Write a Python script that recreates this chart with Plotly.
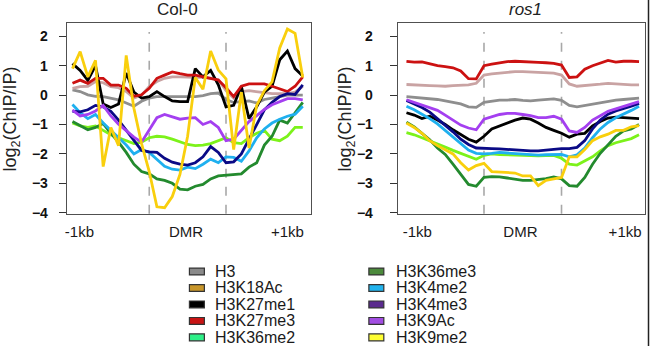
import plotly.graph_objects as go

# ---------------- data ----------------
bins = list(range(31))            # 10 bins upstream, 10 bins DMR, 10 bins downstream
dmr_bounds = [10, 20]

marks = ["H3", "H3K18Ac", "H3K27me1", "H3K27me3", "H3K36me2",
         "H3K36me3", "H3K4me2", "H3K4me3", "H3K9Ac", "H3K9me2"]

# line colours used in the panels
line_colors = ["#8e8e8e", "#c9a3a3", "#000000", "#cc1111", "#7cf21a",
               "#238a2e", "#1fb0ef", "#0a0a86", "#a43ff0", "#f9cf0d"]
# swatch colours printed in the legend
legend_colors = ["#8a8a8a", "#c8962a", "#000000", "#c81414", "#2ef088",
                 "#4c8a3c", "#22b4ee", "#5a2a8e", "#a24ee2", "#ffff33"]

col0 = {
    "H3": [0.18, 0.12, 0.01, -0.04, -0.05, -0.1, -0.16, -0.27, -0.38, -0.21, -0.1,
           -0.05, -0.05, -0.05, -0.06, -0.06, -0.05, -0.02, 0.05, 0.07, -0.15,
           -0.25, -0.22, -0.2, -0.27, -0.15, -0.1, -0.05, 0.0, 0.0, 0.0],
    "H3K18Ac": [0.23, 0.29, 0.3, 0.46, 0.42, 0.29, 0.25, 0.12, -0.1, 0.0, 0.29,
                0.46, 0.57, 0.62, 0.62, 0.6, 0.6, 0.6, 0.58, 0.52, 0.15,
                -0.1, 0.12, 0.15, 0.12, 0.08, 0.05, 0.05, 0.05, 0.1, 0.3],
    "H3K27me1": [1.07, 0.84, 0.5, 1.0, -0.3, -0.42, -0.3, 0.75, 0.1, -0.1, -0.05,
                 0.12, -0.05, -0.2, -0.22, -0.22, 0.9, 0.62, 0.84, 0.35, -0.4,
                 -0.35, 0.3, -0.8, -0.4, 0.1, 0.3, 1.2, 1.5, 0.9, 0.65],
    "H3K27me3": [0.4, 0.51, 0.4, 0.57, 0.57, 0.34, 0.34, 0.23, -0.04, 0.01, 0.23,
                 0.57, 0.68, 0.79, 0.73, 0.68, 0.68, 0.62, 0.57, 0.51, 0.25,
                 -0.05, 0.3, 0.38, 0.38, 0.38, 0.3, 0.2, 0.12, 0.3, 0.62],
    "H3K36me2": [-0.95, -1.05, -1.1, -1.05, -1.2, -1.35, -1.45, -1.55, -1.65, -1.6, -1.45,
                 -1.4, -1.42, -1.5, -1.6, -1.68, -1.72, -1.7, -1.65, -1.55, -1.45,
                 -1.62, -1.65, -1.45, -1.3, -1.2, -1.5, -1.55, -1.4, -1.1, -1.1],
    "H3K36me3": [-0.9, -1.05, -1.18, -1.1, -0.97, -1.3, -1.6, -1.95, -2.35, -2.6, -2.68,
                 -2.85, -2.9, -3.0, -3.2, -3.22, -3.1, -3.04, -2.85, -2.75, -2.72,
                 -2.7, -2.68, -2.45, -2.3, -1.7, -1.4, -0.85, -0.95, -0.6, -0.25],
    "H3K4me2": [-0.32, -0.6, -0.8, -0.66, -0.95, -1.2, -1.45, -1.7, -2.0, -1.85, -1.95,
                -2.2, -2.42, -2.52, -2.55, -2.45, -2.5, -2.35, -2.18, -2.3, -2.1,
                -2.12, -2.25, -1.9, -1.45, -1.15, -0.95, -0.82, -0.72, -0.65, -0.38],
    "H3K4me3": [-0.55, -0.57, -0.5, -0.35, -0.4, -0.55, -0.85, -1.2, -1.55, -1.88, -1.93,
                -1.95, -2.15, -2.28, -2.35, -2.38, -2.3, -2.1, -1.75, -1.95, -2.3,
                -2.27, -2.0, -1.5, -1.0, -0.5, -0.25, -0.05, 0.05, 0.02, 0.35],
    "H3K9Ac": [-0.51, -0.71, -0.66, -0.54, -0.35, -0.71, -0.99, -1.21, -1.43, -1.6, -1.2,
               -0.77, -0.66, -0.75, -0.82, -0.78, -0.77, -1.0, -0.9, -1.1, -1.55,
               -1.5, -1.2, -0.9, -0.7, -0.49, -0.33, -0.22, -0.12, -0.12, -0.16],
    "H3K9me2": [0.9, 1.48, 0.62, 1.18, -2.43, -1.1, -1.72, 1.35, -0.45, -1.65, -2.6,
                -3.8, -3.83, -3.45, -2.7, -1.4, 0.6, 0.2, 1.5, 0.85, 0.55,
                -1.85, 0.1, -1.8, -0.35, 0.15, 0.45, 1.6, 2.25, 2.1, 0.6],
}

ros1 = {
    "H3": [-0.05, -0.07, -0.1, -0.12, -0.15, -0.2, -0.25, -0.3, -0.4, -0.42, -0.25,
           -0.2, -0.17, -0.17, -0.15, -0.18, -0.2, -0.17, -0.15, -0.13, -0.18,
           -0.35, -0.4, -0.35, -0.3, -0.25, -0.2, -0.17, -0.15, -0.13, -0.1],
    "H3K18Ac": [0.36, 0.34, 0.33, 0.32, 0.31, 0.3, 0.32, 0.33, 0.35, 0.4, 0.68,
                0.72, 0.75, 0.78, 0.8, 0.8, 0.79, 0.78, 0.77, 0.75, 0.68,
                0.38, 0.3, 0.32, 0.33, 0.37, 0.4, 0.38, 0.36, 0.35, 0.35],
    "H3K27me1": [-0.6, -0.68, -0.8, -0.72, -0.85, -1.0, -1.18, -1.35, -1.5, -1.6, -1.4,
                 -1.15, -1.05, -0.95, -0.85, -0.78, -0.82, -0.95, -1.1, -1.2, -1.3,
                 -1.43, -1.33, -1.3, -1.05, -0.9, -0.78, -0.75, -0.77, -0.78, -0.8],
    "H3K27me3": [1.15, 1.12, 1.13, 1.06, 1.0, 0.97, 0.93, 0.82, 0.56, 0.55, 1.0,
                 1.05, 1.1, 1.14, 1.15, 1.13, 1.12, 1.11, 1.1, 1.08, 1.02,
                 0.6, 0.62, 0.88, 1.0, 1.08, 1.18, 1.12, 1.15, 1.15, 1.14],
    "H3K36me2": [-1.28, -1.35, -1.45, -1.55, -1.65, -1.77, -1.88, -1.98, -2.1, -2.18, -2.05,
                 -2.0, -2.02, -2.03, -2.05, -2.06, -2.07, -2.07, -2.06, -2.05, -2.15,
                 -2.35, -2.38, -2.25, -2.1, -1.9, -1.72, -1.62, -1.55, -1.48, -1.35],
    "H3K36me3": [-0.92, -1.08, -1.3, -1.52, -1.8, -2.02, -2.35, -2.7, -3.04, -3.1, -2.8,
                 -2.77, -2.78, -2.82, -2.86, -2.9, -2.9, -2.88, -2.84, -2.78, -2.85,
                 -3.08, -3.1, -2.8, -2.35, -1.98, -1.68, -1.4, -1.22, -1.15, -1.0],
    "H3K4me2": [-0.38, -0.5, -0.65, -0.8, -0.98, -1.2, -1.42, -1.65, -1.87, -1.98, -2.0,
                -1.98, -1.95, -1.97, -1.99, -2.02, -2.04, -2.04, -2.03, -2.02, -2.02,
                -2.1, -2.03, -1.8, -1.45, -1.15, -0.93, -0.77, -0.65, -0.52, -0.38],
    "H3K4me3": [-0.18, -0.3, -0.42, -0.58, -0.8, -1.02, -1.25, -1.5, -1.68, -1.8, -1.82,
                -1.82, -1.83, -1.85, -1.87, -1.88, -1.9, -1.9, -1.87, -1.84, -1.82,
                -1.82, -1.78, -1.55, -1.15, -0.85, -0.65, -0.54, -0.47, -0.38, -0.28],
    "H3K9Ac": [-0.16, -0.25, -0.35, -0.42, -0.52, -0.68, -0.85, -1.02, -1.12, -1.18, -0.82,
               -0.75, -0.66, -0.62, -0.62, -0.66, -0.7, -0.77, -0.77, -0.72, -0.82,
               -1.22, -1.27, -1.1, -0.85, -0.7, -0.55, -0.47, -0.38, -0.3, -0.22],
    "H3K9me2": [-0.95, -1.1, -1.3, -1.55, -1.72, -1.85, -2.0, -2.3, -2.55, -2.4, -2.32,
                -2.6, -2.62, -2.63, -2.65, -2.75, -2.75, -3.08, -2.9, -2.85, -2.8,
                -2.1, -2.1, -1.85, -1.55, -1.42, -1.33, -1.2, -1.2, -1.08, -1.04],
}

panel_titles = ["Col-0", "<i>ros1</i>"]
y_ticks = [-4, -3, -2, -1, 0, 1, 2]
x_ticktext = ["-1kb", "DMR", "+1kb"]

# ---------------- figure ----------------
W, H = 650, 353
FONT = "Liberation Sans, Arial, Helvetica, sans-serif"


def px(x):
    return x / W


def py(y):
    return 1 - y / H


fig = go.Figure()
for k, name in enumerate(marks):
    fig.add_trace(go.Scatter(x=bins, y=col0[name], mode="lines", name=name,
                             line=dict(color=line_colors[k], width=2.8),
                             xaxis="x", yaxis="y", showlegend=False))
    fig.add_trace(go.Scatter(x=bins, y=ros1[name], mode="lines", name=name,
                             line=dict(color=line_colors[k], width=2.8),
                             xaxis="x2", yaxis="y2", showlegend=False))

axis_common = dict(showline=True, mirror=True, linecolor="#505050", linewidth=1.2,
                   showgrid=False, zeroline=False)

xcommon = dict(axis_common, tickmode="array", ticktext=x_ticktext, ticks="",
               tickfont=dict(family=FONT, size=15, color="#1a1a1a"),
               ticklabelstandoff=4)
ycommon = dict(axis_common, tickmode="array", tickvals=y_ticks, ticks="outside",
               ticklen=7, tickcolor="#333", tickwidth=1.2,
               range=[-4.033, 2.467],
               tickfont=dict(family=FONT, size=14, color="#111", weight="bold"))

fig.update_layout(
    width=W, height=H, margin=dict(l=0, r=0, t=0, b=0),
    paper_bgcolor="white", plot_bgcolor="white",
    xaxis=dict(xcommon, domain=[px(65), px(310)], range=[-0.74, 31.08],
               tickvals=[0.9, 14.8, 28.0], anchor="y"),
    yaxis=dict(ycommon, domain=[py(218), py(23)], anchor="x",
               ticklabelstandoff=8),
    xaxis2=dict(xcommon, domain=[px(397), px(645)], range=[-1.12, 30.77],
                tickvals=[1.4, 14.7, 28.2], anchor="y2"),
    yaxis2=dict(ycommon, domain=[py(218), py(23)], anchor="x2",
                ticklabelstandoff=14),
    showlegend=False,
)

shapes = []
for xr, yr in (("x", "y"), ("x2", "y2")):
    for b in dmr_bounds:
        shapes.append(dict(type="line", xref=xr, yref=yr + " domain", x0=b, x1=b,
                           y0=0, y1=0.95, line=dict(color="#a8a8a8", width=1.6, dash="dash"),
                           layer="below"))

annotations = []
# panel titles
for t, cx in zip(panel_titles, [176, 525]):
    annotations.append(dict(text=t, x=px(cx), y=py(10), xref="paper", yref="paper",
                            showarrow=False, xanchor="center", yanchor="middle",
                            font=dict(family=FONT, size=17, color="#222")))
# y axis titles
for cx in [10, 346]:
    annotations.append(dict(text="log<sub>2</sub>(ChIP/IP)", x=px(cx), y=py(121),
                            xref="paper", yref="paper", showarrow=False, textangle=-90,
                            xanchor="center", yanchor="middle",
                            font=dict(family=FONT, size=18, color="#222")))

# legend (two columns of boxed swatches)
row_y0, row_dy = 277, 16.8
cols = [(188, 203, 212), (368, 383, 393)]
for k, name in enumerate(marks):
    c = k // 5
    r = k % 5
    yc = row_y0 + r * row_dy
    x0, x1, xt = cols[c]
    shapes.append(dict(type="rect", xref="paper", yref="paper",
                       x0=px(x0), x1=px(x1), y0=py(yc + 3.5), y1=py(yc - 3.5),
                       fillcolor=legend_colors[k], line=dict(color="#333", width=1.2)))
    annotations.append(dict(text=name, x=px(xt), y=py(yc), xref="paper", yref="paper",
                            showarrow=False, xanchor="left", yanchor="middle",
                            font=dict(family=FONT, size=16, color="#1a1a1a")))

# outer border on the right edge of the picture
shapes.append(dict(type="line", xref="paper", yref="paper", x0=px(648.5), x1=px(648.5),
                   y0=0, y1=1, line=dict(color="#222", width=1.5)))

fig.update_layout(shapes=shapes, annotations=annotations)
fig.write_html("out.html")
